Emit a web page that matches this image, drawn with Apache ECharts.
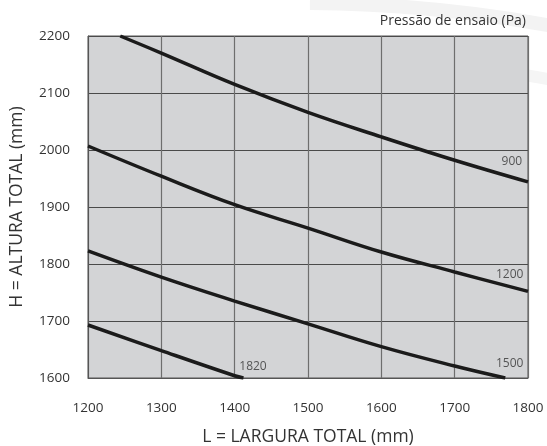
<!DOCTYPE html>
<html>
<head>
<meta charset="utf-8">
<script src="https://cdn.jsdelivr.net/npm/echarts@6/dist/echarts.min.js"></script>
<style>
html,body{margin:0;padding:0;background:#fff;}
#c{width:547px;height:446px;}
</style>
</head>
<body>
<div id="c"></div>
<script>
// Data
var xTicks = [1200, 1300, 1400, 1500, 1600, 1700, 1800];
var yTicks = [1600, 1700, 1800, 1900, 2000, 2100, 2200];
var pressures = ['900', '1200', '1500', '1820'];
var curve900  = [[1244, 2200], [1300, 2170], [1400, 2115], [1500, 2066], [1600, 2023], [1700, 1982], [1800, 1944]];
var curve1200 = [[1200, 2007], [1300, 1954], [1400, 1904], [1500, 1863], [1600, 1821], [1700, 1786], [1800, 1752]];
var curve1500 = [[1200, 1823], [1300, 1777], [1400, 1735], [1500, 1695], [1600, 1655], [1700, 1621], [1769, 1600]];
var curve1820 = [[1200, 1693], [1300, 1648], [1400, 1604], [1412, 1600]];
// label anchor points (data coordinates) for the pressure labels
var labelX = [1778, 1775, 1775, 1425];
var labelY = [1980, 1782, 1626, 1620];

var chart = echarts.init(document.getElementById('c'), null, {renderer: 'canvas'});
var FONT = '"Open Sans", "Noto Sans", sans-serif';

function curveSeries(name, data) {
  return {
    name: name,
    type: 'line',
    data: data,
    smooth: 0.4,
    showSymbol: false,
    symbol: 'none',
    silent: true,
    lineStyle: {color: '#1b1b1b', width: 3.5, cap: 'butt'},
    z: 5
  };
}

var labelData = pressures.map(function (p, i) {
  return {value: [labelX[i], labelY[i]], name: p};
});

chart.setOption({
  animation: false,
  backgroundColor: '#ffffff',
  title: {
    text: 'Pressão de ensaio (Pa)',
    right: 16,
    top: 9,
    textStyle: {fontSize: 14, fontWeight: 'normal', color: '#333', fontFamily: FONT}
  },
  graphic: [
    {type: 'sector', silent: true, z: -10,
     shape: {cx: 300, cy: 1400, r: 1404, r0: 1390, startAngle: -1.5637, endAngle: -1.38, clockwise: true},
     style: {fill: '#f3f3f3'}},
    {type: 'sector', silent: true, z: -10,
     shape: {cx: 300, cy: 1400, r: 1350, r0: 1338, startAngle: -1.4291, endAngle: -1.38, clockwise: true},
     style: {fill: '#f5f5f5'}}
  ],
  grid: {
    left: 88, right: 19, top: 36, bottom: 68,
    containLabel: false,
    outerBoundsMode: 'none',
    show: true,
    backgroundColor: '#d3d4d6',
    borderColor: '#555',
    borderWidth: 1
  },
  xAxis: {
    type: 'value',
    min: xTicks[0],
    max: xTicks[xTicks.length - 1],
    interval: 100,
    name: 'L = LARGURA TOTAL (mm)',
    nameLocation: 'middle',
    nameGap: 50,
    nameTextStyle: {fontSize: 17.5, color: '#333', fontFamily: FONT},
    axisLine: {show: true, lineStyle: {color: '#555', width: 1}},
    axisTick: {show: false},
    axisLabel: {margin: 23, fontSize: 13.5, color: '#333', fontFamily: FONT,
                formatter: function (v) { return String(v); }},
    splitLine: {show: true, lineStyle: {color: '#6e6e6e', width: 1.2}}
  },
  yAxis: {
    type: 'value',
    min: yTicks[0],
    max: yTicks[yTicks.length - 1],
    interval: 100,
    name: 'H = ALTURA TOTAL (mm)',
    nameLocation: 'middle',
    nameGap: 62,
    nameTextStyle: {fontSize: 17.5, color: '#333', fontFamily: FONT},
    axisLine: {show: true, lineStyle: {color: '#555', width: 1}},
    axisTick: {show: false},
    axisLabel: {margin: 18, fontSize: 13.5, color: '#333', fontFamily: FONT,
                formatter: function (v) { return String(v); }},
    splitLine: {show: true, lineStyle: {color: '#4a4a4a', width: 1.2}}
  },
  series: [
    curveSeries(pressures[0], curve900),
    curveSeries(pressures[1], curve1200),
    curveSeries(pressures[2], curve1500),
    curveSeries(pressures[3], curve1820),
    {
      type: 'scatter',
      silent: true,
      symbol: 'circle',
      symbolSize: 2,
      data: labelData,
      itemStyle: {color: 'rgba(0,0,0,0)'},
      label: {
        show: true,
        position: 'inside',
        formatter: function (p) { return p.name; },
        color: '#333',
        fontSize: 12,
        fontFamily: FONT
      },
      labelLayout: {hideOverlap: false},
      z: 6
    }
  ]
});
</script>
</body>
</html>
